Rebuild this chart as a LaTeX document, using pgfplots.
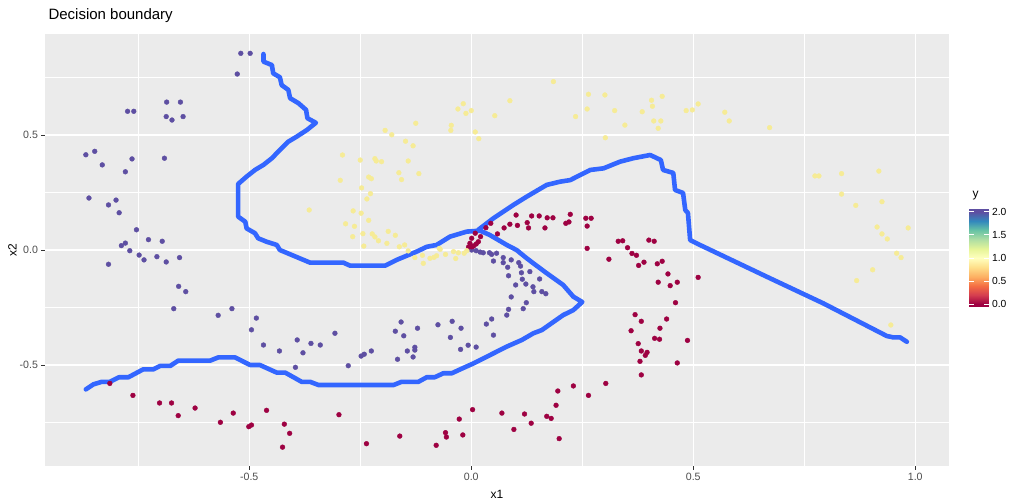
\documentclass[border=0pt]{standalone}
\usepackage{pgfplots}
\pgfplotsset{compat=1.18}
\usepackage{fontspec}
\setmainfont{Liberation Sans}
\definecolor{panel}{HTML}{EBEBEB}
\definecolor{gtext}{HTML}{4D4D4D}
\definecolor{gtick}{HTML}{333333}
\definecolor{cpurple}{HTML}{5E4FA2}
\definecolor{cred}{HTML}{9E0142}
\definecolor{cyellow}{RGB}{246,235,150}
\definecolor{cline}{HTML}{3366FF}
\pgfplotsset{colormap={spectral}{rgb255(0cm)=(158,1,66); rgb255(1cm)=(158,1,66); rgb255(5cm)=(213,62,79); rgb255(9cm)=(244,109,67); rgb255(13cm)=(253,174,97); rgb255(17cm)=(254,224,139); rgb255(21cm)=(255,255,191); rgb255(25cm)=(230,245,152); rgb255(29cm)=(171,221,164); rgb255(33cm)=(102,194,165); rgb255(37cm)=(50,136,189); rgb255(41cm)=(94,79,162); rgb255(42cm)=(94,79,162)}}

\pgfplotstableread{
x y
-0.519 0.855
-0.498 0.855
-0.527 0.765
-0.686 0.643
-0.655 0.643
-0.774 0.603
-0.760 0.603
-0.687 0.580
-0.649 0.580
-0.674 0.565
-0.868 0.414
-0.848 0.429
-0.831 0.370
-0.764 0.396
-0.691 0.399
-0.779 0.340
-0.861 0.226
-0.800 0.217
-0.817 0.196
-0.793 0.162
-0.754 0.088
-0.727 0.045
-0.696 0.038
-0.779 0.030
-0.788 0.019
-0.769 -0.003
-0.748 -0.022
-0.737 -0.043
-0.708 -0.029
-0.687 -0.052
-0.657 -0.033
-0.817 -0.062
-0.659 -0.158
-0.643 -0.181
-0.670 -0.255
-0.570 -0.284
-0.539 -0.255
-0.495 -0.347
-0.484 -0.296
-0.468 -0.413
-0.432 -0.439
-0.392 -0.391
-0.379 -0.447
-0.361 -0.406
-0.340 -0.413
-0.307 -0.362
-0.396 -0.510
-0.277 -0.503
-0.248 -0.461
-0.241 -0.453
-0.225 -0.439
-0.166 -0.475
-0.131 -0.465
-0.144 -0.439
-0.127 -0.423
-0.127 -0.435
-0.152 -0.373
-0.171 -0.353
-0.158 -0.313
-0.121 -0.340
-0.075 -0.325
-0.043 -0.310
-0.023 -0.340
-0.047 -0.380
-0.024 -0.432
-0.007 -0.414
0.011 -0.422
0.034 -0.322
0.046 -0.300
0.050 -0.370
0.080 -0.283
0.084 -0.258
0.117 -0.255
0.124 -0.229
0.090 -0.204
0.100 -0.152
0.123 -0.148
0.139 -0.160
0.141 -0.181
0.159 -0.181
0.168 -0.190
0.084 -0.112
0.113 -0.099
0.115 -0.127
0.132 -0.094
0.154 -0.126
0.082 -0.075
0.050 -0.048
0.072 -0.033
0.072 -0.055
0.090 -0.043
0.107 -0.055
0.111 -0.070
0.001 0.000
0.011 -0.003
0.020 -0.009
0.027 -0.012
0.041 -0.012
0.046 -0.019
0.057 -0.014
}\purple

\pgfplotstableread{
x y
-0.814 -0.580
-0.762 -0.632
-0.702 -0.665
-0.675 -0.665
-0.660 -0.720
-0.622 -0.687
-0.565 -0.749
-0.536 -0.709
-0.501 -0.768
-0.495 -0.761
-0.461 -0.697
-0.421 -0.757
-0.409 -0.797
-0.425 -0.857
-0.298 -0.716
-0.236 -0.842
-0.161 -0.809
-0.079 -0.849
-0.058 -0.794
-0.056 -0.813
-0.027 -0.735
-0.019 -0.804
0.003 -0.694
0.069 -0.709
0.096 -0.780
0.120 -0.713
0.135 -0.753
0.170 -0.723
0.180 -0.732
0.191 -0.675
0.198 -0.820
0.195 -0.613
0.230 -0.591
0.264 -0.632
0.303 -0.580
0.310 -0.040
0.362 -0.015
0.372 -0.023
0.377 -0.067
0.389 -0.053
0.419 -0.060
0.430 -0.049
0.443 -0.104
0.421 -0.140
0.448 -0.155
0.464 -0.140
0.460 -0.229
0.369 -0.281
0.383 -0.310
0.440 -0.300
0.360 -0.351
0.425 -0.340
0.413 -0.384
0.424 -0.388
0.487 -0.393
0.376 -0.407
0.383 -0.439
0.396 -0.445
0.392 -0.458
0.380 -0.484
0.464 -0.491
0.383 -0.543
0.511 -0.119
0.101 0.152
0.136 0.148
0.153 0.148
0.171 0.140
0.184 0.140
0.223 0.155
0.258 0.138
0.270 0.138
0.261 0.104
0.087 0.112
0.104 0.107
0.126 0.119
0.129 0.096
0.166 0.096
0.213 0.116
0.220 0.122
0.074 0.096
0.059 0.070
0.044 0.116
0.033 0.097
0.009 0.073
0.001 0.051
0.021 0.058
0.016 0.036
-0.003 0.029
0.005 0.017
0.001 0.014
0.261 0.007
0.331 0.038
0.341 0.040
0.352 0.010
0.400 0.043
0.412 0.038
-0.006 0.013
0.011 0.026
}\red

\pgfplotstableread{
x y
0.185 0.732
0.087 0.649
-0.018 0.636
-0.030 0.613
-0.012 0.594
0.000 0.606
0.053 0.584
-0.045 0.542
-0.046 0.520
0.009 0.513
0.017 0.484
-0.125 0.551
-0.194 0.520
-0.179 0.501
-0.148 0.473
-0.131 0.453
-0.142 0.387
-0.118 0.332
-0.163 0.336
-0.157 0.306
-0.217 0.397
-0.214 0.387
-0.202 0.384
-0.250 0.391
-0.290 0.413
-0.295 0.303
-0.247 0.270
-0.227 0.245
-0.235 0.222
-0.231 0.317
-0.225 0.310
-0.266 0.170
-0.248 0.160
-0.283 0.114
-0.263 0.103
-0.231 0.129
-0.267 0.058
-0.244 0.071
-0.223 0.070
-0.217 0.057
-0.209 0.040
-0.242 0.017
-0.190 0.029
-0.187 0.081
-0.171 0.064
-0.162 0.014
-0.150 0.022
-0.142 -0.004
-0.127 -0.033
-0.110 -0.023
-0.093 -0.036
-0.084 -0.032
-0.078 -0.025
-0.072 0.007
-0.058 -0.019
-0.040 -0.007
-0.029 -0.012
-0.016 -0.014
-0.010 -0.003
-0.035 -0.037
-0.108 -0.058
-0.070 0.003
0.264 0.677
0.261 0.613
0.235 0.580
0.301 0.674
0.323 0.606
0.346 0.543
0.302 0.488
0.406 0.651
0.408 0.625
0.430 0.668
0.385 0.601
0.411 0.561
0.427 0.561
0.421 0.529
0.484 0.606
0.498 0.609
0.511 0.635
0.571 0.599
0.581 0.561
0.672 0.532
0.774 0.322
0.783 0.322
0.834 0.332
0.834 0.243
0.918 0.343
0.866 0.194
0.925 0.210
0.914 0.100
0.925 0.070
0.937 0.048
0.984 0.096
0.958 -0.014
0.968 -0.033
0.904 -0.086
0.868 -0.133
0.945 -0.326
-0.365 0.174
}\yellow

\pgfplotstableread{
x y
-0.468 0.852
-0.468 0.819
-0.449 0.804
-0.446 0.768
-0.431 0.751
-0.427 0.717
-0.412 0.696
-0.408 0.660
-0.389 0.638
-0.372 0.609
-0.369 0.573
-0.350 0.553
-0.370 0.522
-0.393 0.493
-0.412 0.471
-0.431 0.435
-0.449 0.399
-0.468 0.370
-0.487 0.348
-0.506 0.319
-0.525 0.287
-0.525 0.145
-0.509 0.123
-0.506 0.094
-0.487 0.073
-0.480 0.051
-0.461 0.036
-0.438 0.022
-0.431 0.000
-0.363 -0.055
-0.288 -0.055
-0.273 -0.068
-0.194 -0.068
-0.168 -0.043
-0.123 -0.007
-0.100 0.014
-0.078 0.022
-0.048 0.058
-0.010 0.080
0.020 0.084
0.042 0.065
0.080 0.022
0.102 0.000
0.125 -0.036
0.140 -0.058
0.170 -0.101
0.207 -0.152
0.230 -0.203
0.250 -0.226
0.230 -0.261
0.207 -0.283
0.159 -0.348
0.140 -0.362
0.114 -0.391
0.080 -0.420
0.042 -0.457
0.005 -0.493
-0.025 -0.519
-0.044 -0.536
-0.063 -0.536
-0.082 -0.553
-0.100 -0.553
-0.119 -0.573
-0.157 -0.573
-0.175 -0.587
-0.344 -0.587
-0.363 -0.573
-0.382 -0.573
-0.419 -0.533
-0.438 -0.533
-0.476 -0.500
-0.498 -0.500
-0.532 -0.467
-0.570 -0.467
-0.588 -0.481
-0.660 -0.481
-0.678 -0.504
-0.701 -0.504
-0.716 -0.519
-0.739 -0.519
-0.772 -0.553
-0.793 -0.553
-0.814 -0.573
-0.832 -0.573
-0.851 -0.584
-0.868 -0.606
}\lineA

\pgfplotstableread{
x y
0.016 0.088
0.050 0.138
0.095 0.196
0.125 0.232
0.170 0.283
0.200 0.297
0.223 0.304
0.268 0.348
0.298 0.355
0.335 0.384
0.365 0.399
0.403 0.413
0.427 0.391
0.432 0.348
0.455 0.335
0.459 0.261
0.477 0.248
0.482 0.174
0.488 0.161
0.493 0.043
0.515 0.022
0.673 -0.123
0.793 -0.232
0.936 -0.374
0.951 -0.380
0.966 -0.380
0.981 -0.399
}\lineB

\begin{document}
\begin{tikzpicture}
\useasboundingbox (-45pt,-37pt) rectangle (979pt,466pt);
\begin{axis}[
  at={(0pt,0pt)}, anchor=south west,
  scale only axis, width=904pt, height=432pt,
  xmin=-0.960, xmax=1.076, ymin=-0.939, ymax=0.939,
  axis background/.style={fill=panel},
  axis line style={draw=none},
  xtick={-0.5,0,0.5,1}, ytick={-0.5,0,0.5},
  minor xtick={-0.75,-0.25,0.25,0.75}, minor ytick={-0.75,-0.25,0.25,0.75},
  grid=both,
  major grid style={white, line width=1.3pt},
  minor grid style={white, line width=0.65pt},
  tick align=outside, xtick pos=bottom, ytick pos=left,
  major tick length=3.5pt, minor tick length=0pt,
  tick style={gtick, line width=0.8pt},
  /pgf/number format/assume math mode=true,
  ticklabel style={font=\fontsize{10.6}{12}\selectfont, text=gtext,
    /pgf/number format/fixed, /pgf/number format/fixed zerofill, /pgf/number format/precision=1},
  title={Decision boundary},
  title style={at={(axis description cs:0,1)}, anchor=base west, yshift=9pt, font=\fontsize{15}{18}\selectfont},
  xlabel={x1},
  xlabel style={at={(axis description cs:0.5,0)}, anchor=base, yshift=-32pt, font=\fontsize{12}{14}\selectfont},
  ylabel={x2},
  ylabel style={at={(axis description cs:-0.036,0.5)}, anchor=center, font=\fontsize{12}{14}\selectfont},
]
\addplot[only marks, mark=*, mark size=2.4pt, color=cpurple, mark options={draw=none}] table {\purple};
\addplot[only marks, mark=*, mark size=2.4pt, color=cred, mark options={draw=none}] table {\red};
\addplot[only marks, mark=*, mark size=2.4pt, color=cyellow, mark options={draw=none}] table {\yellow};
\addplot[cline, line width=4.6pt, line join=round, line cap=round, mark=none] table {\lineA};
\addplot[cline, line width=4.6pt, line join=round, line cap=round, mark=none] table {\lineB};
\end{axis}
\begin{axis}[
  at={(924pt,159.3pt)}, anchor=south west,
  scale only axis, width=19.5pt, height=97.4pt,
  xmin=0, xmax=1, ymin=-0.05, ymax=2.05,
  axis on top,
  axis line style={draw=none},
  xtick=\empty, ytick={0,0.5,1,1.5,2},
  ytick pos=both, yticklabel pos=right,
  tick align=inside, major tick length=4.5pt,
  tick style={white, line width=0.9pt},
  /pgf/number format/assume math mode=true,
  yticklabel style={font=\fontsize{10.3}{12}\selectfont, text=black,
    /pgf/number format/fixed, /pgf/number format/fixed zerofill, /pgf/number format/precision=1},
  title={y},
  title style={at={(axis description cs:0,1)}, anchor=base west, yshift=6pt, font=\fontsize{12}{14}\selectfont},
  colormap name=spectral, point meta min=-0.05, point meta max=2.05,
]
\addplot[surf, shader=interp, mesh/cols=2, point meta=y] coordinates {
(0,-0.05) (1,-0.05)
(0,0) (1,0)
(0,0.2) (1,0.2)
(0,0.4) (1,0.4)
(0,0.6) (1,0.6)
(0,0.8) (1,0.8)
(0,1.0) (1,1.0)
(0,1.2) (1,1.2)
(0,1.4) (1,1.4)
(0,1.6) (1,1.6)
(0,1.8) (1,1.8)
(0,2.0) (1,2.0)
(0,2.05) (1,2.05)
};
\end{axis}
\end{tikzpicture}
\end{document}
